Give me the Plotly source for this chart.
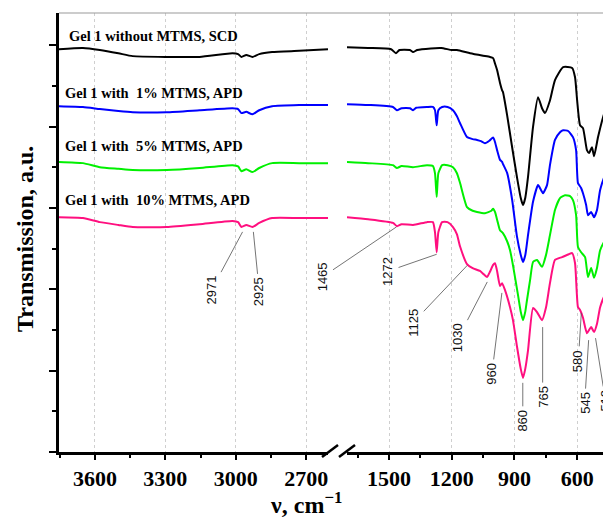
import plotly.graph_objects as go

# ---------------- data ----------------
# left panel (high wavenumber region), common grid for all four spectra
wn_left = [3753, 3651, 3579, 3500, 3439, 3294, 3154, 3014, 2990, 2976, 2955, 2929, 2900, 2845, 2730, 2607]
scd_left = [99.0, 99.3, 98.8, 98.0, 97.3, 97.1, 97.1, 98.0, 97.8, 97.1, 97.6, 97.1, 97.8, 98.3, 98.6, 99.0]
m1_left = [85.0, 84.8, 84.3, 83.8, 83.5, 83.5, 84.0, 84.5, 84.3, 83.3, 83.6, 83.0, 84.0, 85.0, 85.3, 85.3]
m5_left = [71.3, 71.0, 70.0, 69.6, 69.3, 69.3, 69.8, 70.5, 70.2, 69.0, 69.5, 68.8, 69.8, 71.0, 71.0, 71.0]
m10_left = [57.7, 57.5, 56.5, 55.8, 55.3, 55.3, 56.0, 56.8, 56.5, 55.3, 55.8, 55.3, 56.3, 57.5, 57.5, 57.5]

# right panel (fingerprint region)
scd_wn = [1701, 1600, 1490, 1467, 1450, 1400, 1385, 1365, 1300, 1250, 1200, 1175, 1112, 1050, 1017, 1002, 993,
          983, 969, 959, 955, 935, 911, 888, 870, 859, 848, 835, 811, 787, 768, 754, 730, 706, 667, 624, 610,
          600, 586, 572, 553, 543, 529, 519, 500, 476, 438]
scd_t = [99.5, 99.3, 99.0, 98.0, 98.8, 98.8, 98.3, 98.8, 99.2, 99.3, 98.8, 98.8, 98.0, 97.4, 97.1, 96.8, 95.5,
         93.9, 90.7, 88.9, 88.5, 82.8, 74.9, 67.6, 62.5, 60.7, 62.5, 67.6, 79.9, 87.2, 84.5, 83.3, 86.4, 91.4,
         94.6, 94.4, 92.1, 86.4, 80.3, 79.6, 74.2, 73.5, 74.9, 72.7, 77.4, 82.3, 88.2]

m1_wn = [1701, 1600, 1481, 1462, 1440, 1400, 1385, 1370, 1318, 1290, 1280, 1272, 1264, 1246, 1220, 1194, 1175,
         1160, 1127, 1100, 1079, 1060, 1041, 1020, 1002, 993, 983, 969, 959, 955, 935, 911, 888, 870, 859, 848,
         835, 811, 787, 773, 763, 744, 730, 706, 682, 667, 643, 620, 605, 596, 581, 572, 557, 548, 533, 519,
         505, 490, 466, 438]
m1_t = [85.5, 85.3, 84.8, 84.0, 84.5, 84.5, 84.0, 84.6, 84.8, 84.8, 84.0, 80.3, 84.0, 84.8, 84.8, 84.0, 82.5,
        80.8, 77.4, 76.9, 76.7, 76.4, 75.9, 76.5, 77.3, 76.2, 74.2, 71.8, 71.3, 70.8, 68.6, 62.0, 53.0, 48.5,
        46.7, 48.4, 53.3, 61.5, 65.6, 64.4, 63.6, 65.6, 70.5, 76.7, 78.6, 79.1, 78.9, 77.4, 74.2, 66.1, 64.9,
        63.6, 60.7, 58.2, 59.0, 57.7, 59.5, 64.4, 68.1, 70.5]

m5_wn = [1701, 1600, 1481, 1462, 1440, 1385, 1318, 1290, 1280, 1272, 1264, 1246, 1220, 1194, 1175, 1160, 1127,
         1100, 1079, 1041, 1010, 1002, 993, 980, 969, 955, 935, 921, 907, 883, 870, 859, 848, 840, 825, 811,
         792, 768, 749, 730, 706, 682, 658, 634, 620, 605, 596, 581, 562, 548, 533, 519, 505, 490, 466, 438]
m5_t = [71.3, 71.0, 70.5, 69.8, 70.3, 70.0, 70.5, 70.3, 68.5, 62.7, 68.5, 70.5, 70.5, 70.0, 68.5, 66.1, 60.2,
        59.3, 59.0, 58.7, 59.3, 59.8, 59.0, 56.5, 54.5, 53.8, 51.8, 49.6, 45.9, 38.6, 34.5, 32.4, 34.5, 37.3,
        42.3, 46.7, 47.2, 45.5, 48.4, 53.3, 59.5, 62.4, 63.1, 62.9, 61.9, 58.2, 50.4, 49.1, 47.9, 43.0, 45.2,
        42.8, 45.2, 49.6, 52.1, 54.1]

m10_wn = [1701, 1600, 1481, 1462, 1440, 1385, 1318, 1290, 1280, 1272, 1264, 1246, 1220, 1194, 1175, 1160, 1127,
          1100, 1065, 1045, 1031, 1017, 1002, 993, 983, 969, 959, 945, 921, 907, 888, 870, 859, 848, 835, 811,
          792, 768, 749, 730, 706, 672, 640, 624, 610, 596, 586, 572, 553, 533, 519, 505, 490, 466, 438]
m10_t = [57.7, 57.2, 56.3, 55.5, 56.0, 55.8, 56.5, 56.5, 54.0, 49.1, 54.0, 56.5, 56.5, 55.3, 53.5, 50.5, 46.2,
         45.2, 44.5, 43.6, 43.0, 44.3, 46.0, 46.4, 44.5, 40.8, 41.5, 39.8, 35.6, 32.4, 26.0, 20.5, 18.2, 20.5,
         25.0, 35.4, 34.4, 32.4, 35.5, 41.5, 47.2, 47.9, 48.6, 48.9, 46.4, 35.6, 34.9, 33.0, 29.2, 30.7, 29.5,
         31.5, 35.6, 38.6, 39.3]

series_names = ["Gel 1 without MTMS, SCD", "Gel 1 with\u00a0 1% MTMS, APD",
                "Gel 1 with\u00a0 5% MTMS, APD", "Gel 1 with\u00a0 10% MTMS, APD"]
series_colors = ["#000000", "#0000FF", "#00F000", "#FF0F7F"]

# peak labels: label text, wavenumber, transmission at the leader-line end
peak_labels = ["2971", "2925", "1465", "1272", "1125", "1030", "960", "860", "765", "580", "545", "512"]
peak_wn = [2971, 2925, 1465, 1272, 1125, 1030, 960, 860, 765, 580, 545, 512]
peak_t = [54.1, 54.1, 55.3, 48.6, 45.9, 41.8, 39.1, 17.0, 30.7, 34.2, 27.5, 28.0]
peak_panel = ["x", "x", "x2", "x2", "x2", "x2", "x2", "x2", "x2", "x2", "x2", "x2"]
peak_ax = [-31, 6, -74, -49, -54, -29, -10, 0, 0, -3, -4, 10]
peak_ay = [58, 60, 50, 17, 57, 56, 81, 38, 70, 48, 63, 63]

left_range = [3753, 2607]
right_range = [1701, 438]

# ---------------- figure ----------------
# the page body adds an 8 px margin, so the figure is sized/positioned to compensate
OFF = 8
W, H = 611 - OFF, 519 - OFF


def px(x):
    return (x - OFF) / W


def py(y):
    return 1 - (y - OFF) / H


fig = go.Figure()

left_sets = [scd_left, m1_left, m5_left, m10_left]
right_sets = [(scd_wn, scd_t), (m1_wn, m1_t), (m5_wn, m5_t), (m10_wn, m10_t)]
for name, col, ly, (rx, ry) in zip(series_names, series_colors, left_sets, right_sets):
    fig.add_trace(go.Scatter(x=wn_left, y=ly, mode="lines", name=name, xaxis="x", yaxis="y",
                             line=dict(color=col, width=2, shape="spline", smoothing=0.5),
                             showlegend=False, hoverinfo="skip"))
    fig.add_trace(go.Scatter(x=rx, y=ry, mode="lines", name=name, xaxis="x2", yaxis="y",
                             line=dict(color=col, width=2, shape="spline", smoothing=0.5),
                             showlegend=False, hoverinfo="skip"))

serif = "Liberation Serif"
tickfont = dict(family=serif, size=22, color="black", weight="bold")

xcommon = dict(tickmode="linear", tick0=0, dtick=300, ticks="outside", ticklen=5, tickwidth=2,
               tickcolor="black", showline=True, linewidth=2.5, linecolor="black",
               showgrid=True, gridcolor="#cfcfcf", griddash="dot", gridwidth=1, zeroline=False,
               tickfont=tickfont, anchor="y",
               minor=dict(tick0=0, dtick=150, ticks="outside", ticklen=3, tickwidth=1.5,
                          tickcolor="black", showgrid=False))

fig.update_layout(
    width=W, height=H,
    margin=dict(l=0, r=0, t=0, b=0),
    paper_bgcolor="white", plot_bgcolor="white",
    showlegend=False,
    xaxis=dict(domain=[px(59), px(328)], range=left_range, **xcommon),
    xaxis2=dict(domain=[px(347), 1.0], range=right_range, **xcommon),
    yaxis=dict(domain=[py(452), py(13)], range=[0, 107.9], anchor="x",
               tickmode="linear", tick0=0, dtick=20, ticks="outside", ticklen=7, tickwidth=2,
               tickcolor="black", showticklabels=False, showline=True, linewidth=2.5,
               linecolor="black", showgrid=False, zeroline=False,
               minor=dict(tick0=0, dtick=10, ticks="outside", ticklen=4, tickwidth=2,
                          tickcolor="black", showgrid=False)),
)

# top frame line and axis-break marks
fig.add_shape(type="line", xref="paper", yref="paper", x0=px(59), x1=1.0,
              y0=py(13), y1=py(13), line=dict(color="#9a9a9a", width=1.2))
for x0 in (322, 339):
    fig.add_shape(type="line", xref="paper", yref="paper", x0=px(x0), x1=px(x0 + 16),
                  y0=py(457), y1=py(445), line=dict(color="black", width=2.5))

# series labels
label_pos = [(67, 36), (63, 93), (63, 146), (63, 200)]
for name, (lx, ly) in zip(series_names, label_pos):
    fig.add_annotation(text=name, xref="paper", yref="paper", x=px(lx), y=py(ly),
                       xanchor="left", yanchor="middle", showarrow=False,
                       font=dict(family=serif, size=14.5, color="black", weight="bold"))

# peak annotations with leader lines
for lab, wn, t, xr, ax, ay in zip(peak_labels, peak_wn, peak_t, peak_panel, peak_ax, peak_ay):
    fig.add_annotation(text=lab, x=wn, y=t, xref=xr, yref="y", showarrow=True,
                       arrowhead=0, arrowwidth=0.8, arrowcolor="#505050", ax=ax, ay=ay,
                       standoff=0, startstandoff=2, textangle=-90,
                       font=dict(family="Liberation Sans", size=13, color="#111111"))

# axis titles
fig.add_annotation(text="Transmission, a.u.", xref="paper", yref="paper", x=px(25), y=py(239),
                   textangle=-90, showarrow=False, xanchor="center", yanchor="middle",
                   font=dict(family=serif, size=24, color="black", weight="bold"))
fig.add_annotation(text="\u03bd, cm<sup>\u22121</sup>", xref="paper", yref="paper", x=px(306), y=py(503),
                   showarrow=False, xanchor="center", yanchor="middle",
                   font=dict(family=serif, size=24, color="black", weight="bold"))

fig.write_html("out.html")
